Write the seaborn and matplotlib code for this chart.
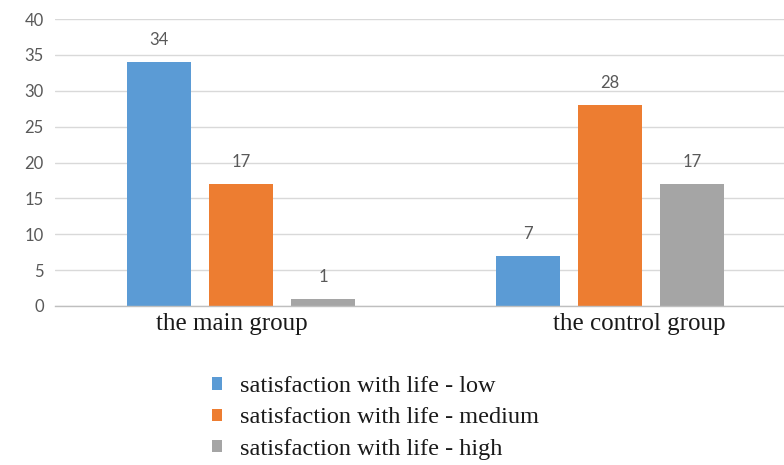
import matplotlib
matplotlib.use("Agg")
import matplotlib.pyplot as plt
import seaborn as sns
import pandas as pd

groups = ["the main group", "the control group"]
levels = ["satisfaction with life - low",
          "satisfaction with life - medium",
          "satisfaction with life - high"]
low = [34, 7]
medium = [17, 28]
high = [1, 17]
colors = ["#5B9BD5", "#ED7D31", "#A5A5A5"]

rows = []
for lvl, vals in zip(levels, [low, medium, high]):
    for g, v in zip(groups, vals):
        rows.append({"group": g, "level": lvl, "count": v})
df = pd.DataFrame(rows)

sns.set_theme(style="white")
plt.rcParams["font.family"] = ["Lato", "DejaVu Sans"]

fig = plt.figure(figsize=(7.84, 4.65), dpi=100)
ax = fig.add_axes([0.070, 0.342, 0.930, 0.617])

sns.barplot(data=df, x="group", y="count", hue="level", order=groups,
            hue_order=levels, palette=colors, width=0.667, gap=0.22,
            saturation=1, ax=ax, legend=True, edgecolor="none")

for cont in ax.containers:
    ax.bar_label(cont, padding=10, fontsize=12, color="#595959",
                 family=["Lato", "DejaVu Sans"])

ax.set_ylim(0, 40)
ax.set_xlim(-0.504, 1.4715)
ax.set_yticks(range(0, 41, 5))
ax.yaxis.grid(True, color="#D9D9D9", linewidth=1)
ax.set_axisbelow(True)
for s in ["top", "right", "left"]:
    ax.spines[s].set_visible(False)
ax.spines["bottom"].set_color("#BFBFBF")
ax.spines["bottom"].set_linewidth(1)
ax.tick_params(axis="y", length=0, labelsize=12, labelcolor="#595959", pad=8)
ax.tick_params(axis="x", length=0)
ax.set_xlabel("")
ax.set_ylabel("")

# category names sit slightly off the bar-group centres
ax.set_xticks([-0.025, 1.08])
ax.set_xticklabels(groups, family=["Liberation Serif"], fontsize=18,
                   color="#1a1a1a")
ax.tick_params(axis="x", pad=5)

handles, labels = ax.get_legend_handles_labels()
ax.legend(handles, labels, loc="upper left", bbox_to_anchor=(0.243, 0.238),
          bbox_transform=fig.transFigure, frameon=False,
          prop={"family": "Liberation Serif", "size": 17.5},
          handlelength=0.4, handleheight=0.4, handletextpad=0.75,
          labelspacing=0.42, labelcolor="#1a1a1a")

fig.savefig("out.png", dpi=100, facecolor="white")
